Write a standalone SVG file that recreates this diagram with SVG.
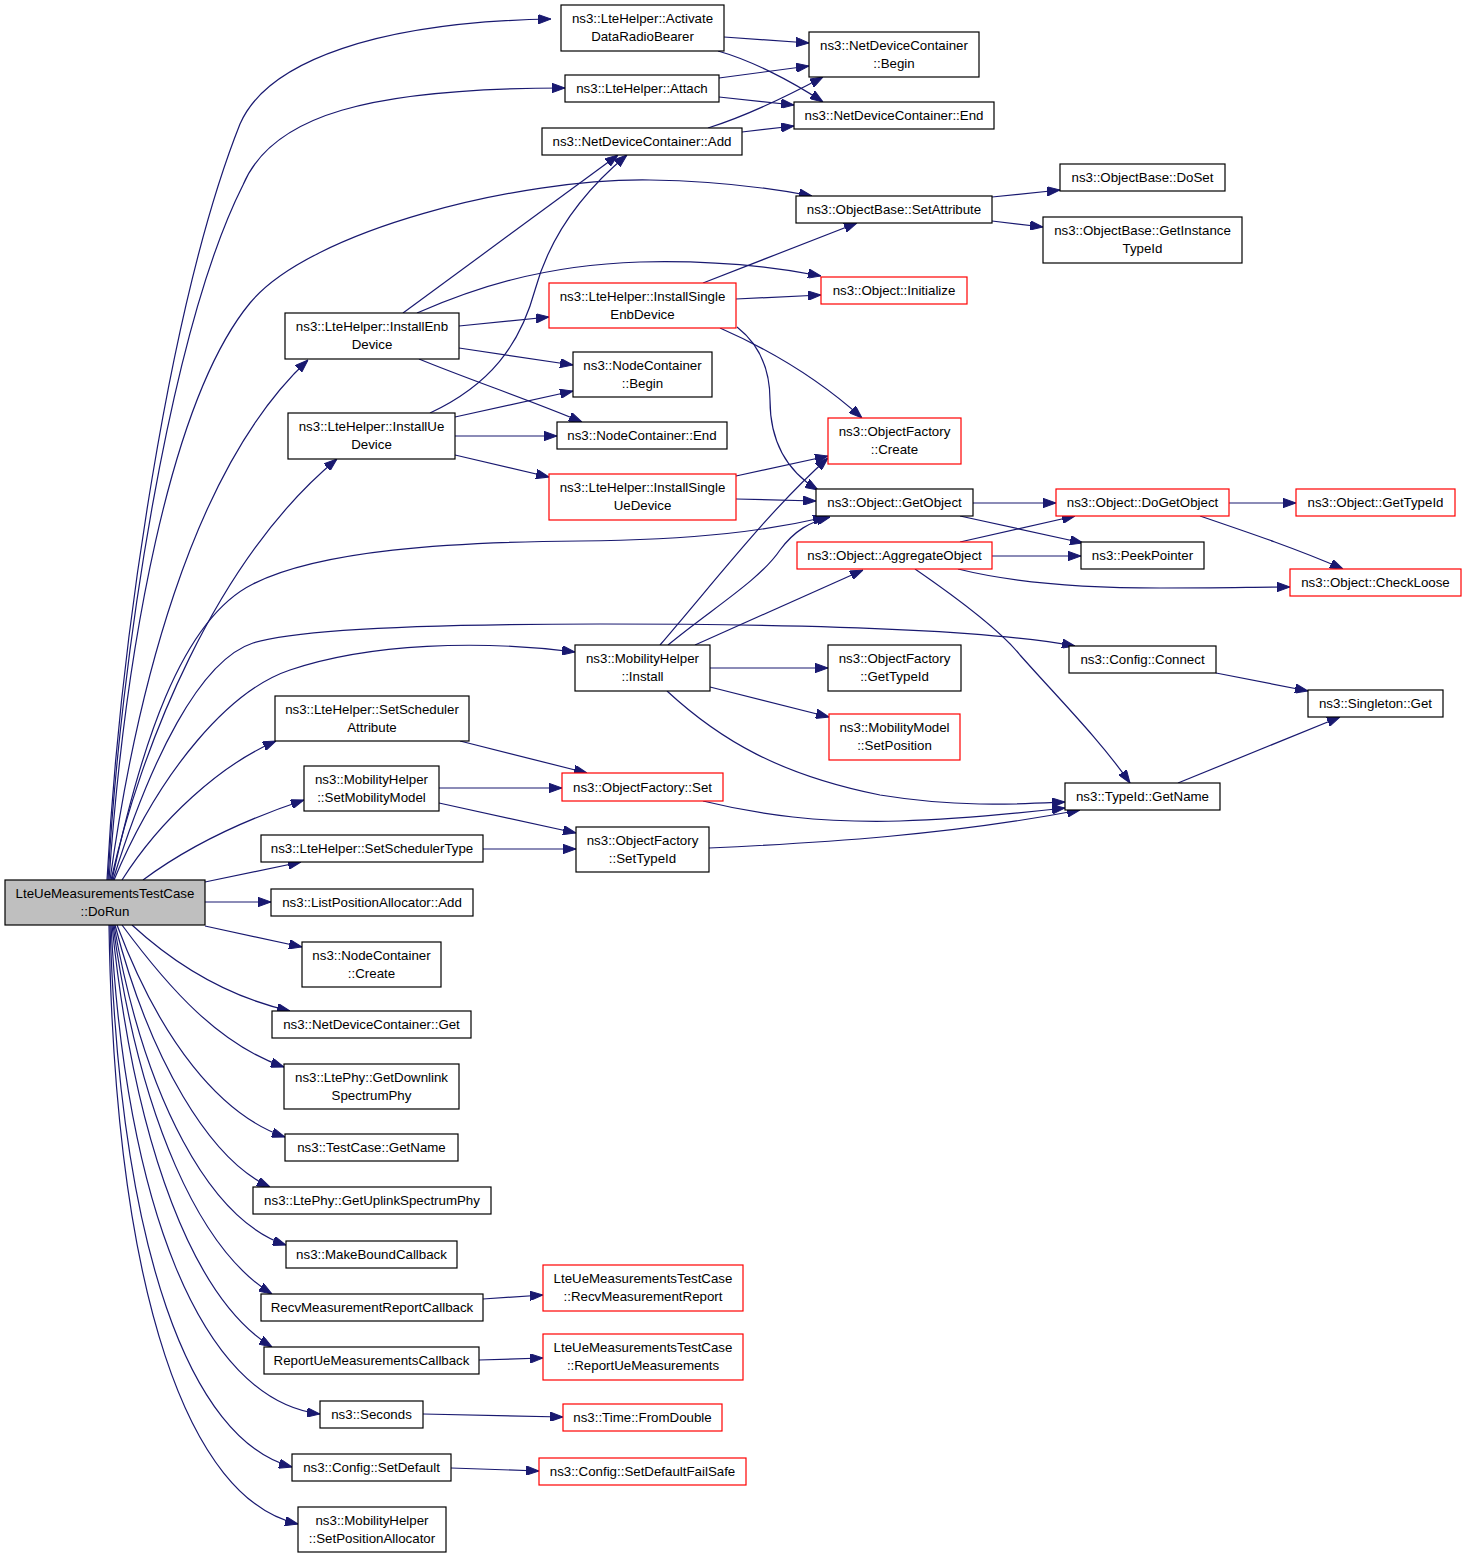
<svg xmlns="http://www.w3.org/2000/svg" width="1467" height="1557" viewBox="0 0 1467 1557">
<style>
.n rect{fill:#fff;stroke:#000;stroke-width:1.2}
.r rect{stroke:#f00}
.root rect{fill:#bfbfbf}
text{font-family:"Liberation Sans",Arial,Helvetica,sans-serif;font-size:13.3px;text-anchor:middle;fill:#000}
.e path{fill:none;stroke:#191970;stroke-width:1.2;marker-end:url(#a)}
</style>
<defs>
<marker id="a" markerUnits="userSpaceOnUse" markerWidth="13" markerHeight="9.4" refX="13" refY="4.7" orient="auto">
<path d="M0,0 L13,4.7 L0,9.4 z" fill="#191970" stroke="#191970" stroke-width="1"/>
</marker>
</defs>
<rect width="1467" height="1557" fill="#fff"/>
<g class="e" id="edges">
<path d="M107,880 C120,640 170,300 240,124 C268,60 380,22 551,19"/>
<path d="M108,880 C120,660 170,330 243,185 C272,115 370,88 565,88"/>
<path d="M109,880 C125,650 170,400 250,303 C310,230 520,178 650,180 C720,181 770,188 812,196"/>
<path d="M110,880 C135,700 190,470 308,360"/>
<path d="M111,880 C140,750 215,560 337,459"/>
<path d="M112,880 C140,750 180,620 253,584 C320,550 450,542 580,541 C700,540 770,530 826,517"/>
<path d="M113,880 C150,760 200,660 253,643 C300,628 450,624 600,624 C850,624 1000,632 1075,646"/>
<path d="M114,880 C160,770 230,690 290,670 C370,643 480,640 575,652"/>
<path d="M122,880 C160,820 220,765 276,741"/>
<path d="M143,880 C190,845 250,818 304,800"/>
<path d="M205,882 L301,862"/>
<path d="M205,902 L271,902"/>
<path d="M205,926 L302,947"/>
<path d="M132,925 C170,960 220,995 290,1011"/>
<path d="M122,925 C170,990 220,1045 284,1067"/>
<path d="M117,925 C160,1040 220,1115 285,1137"/>
<path d="M115,925 C150,1060 210,1160 270,1187"/>
<path d="M114,925 C145,1100 210,1220 286,1245"/>
<path d="M113,925 C140,1120 200,1250 272,1294"/>
<path d="M112,925 C135,1150 195,1300 272,1347"/>
<path d="M111,925 C125,1200 200,1400 320,1414"/>
<path d="M110,925 C120,1250 190,1440 292,1467"/>
<path d="M109,925 C115,1300 190,1500 298,1524"/>
<path d="M724,37 L809,43"/>
<path d="M718,51 C750,60 790,80 823,102"/>
<path d="M719,78 L809,66"/>
<path d="M719,97 L794,105"/>
<path d="M708,128 C740,118 780,100 823,77"/>
<path d="M742,132 L794,126"/>
<path d="M403,313 L618,155"/>
<path d="M430,413 C490,385 520,345 535,290 C550,235 585,190 627,155"/>
<path d="M417,313 C470,290 540,265 640,262 C720,260 780,268 821,276"/>
<path d="M459,326 L549,317"/>
<path d="M459,348 L573,365"/>
<path d="M419,359 C470,380 530,400 582,422"/>
<path d="M455,417 L573,391"/>
<path d="M455,436 L557,436"/>
<path d="M455,455 L549,477"/>
<path d="M703,283 L857,223"/>
<path d="M736,299 L821,295"/>
<path d="M720,328 C770,350 820,380 862,418"/>
<path d="M737,327 C760,345 770,370 770,400 C770,440 785,470 818,490"/>
<path d="M736,476 L828,456"/>
<path d="M736,499 L816,501"/>
<path d="M660,645 C720,575 770,510 828,458"/>
<path d="M668,645 C710,610 760,580 780,550 C795,530 810,522 830,517"/>
<path d="M695,645 L863,570"/>
<path d="M710,668 L828,668"/>
<path d="M710,687 L829,717"/>
<path d="M667,691 C720,740 780,775 880,795 C960,808 1020,804 1065,802"/>
<path d="M703,801 C760,815 820,823 900,821 C960,819 1020,813 1065,808"/>
<path d="M709,848 C820,843 950,835 1080,810"/>
<path d="M973,503 L1056,503"/>
<path d="M960,516 L1083,543"/>
<path d="M960,542 L1075,516"/>
<path d="M992,556 L1081,556"/>
<path d="M958,569 C1010,582 1080,588 1160,588 C1220,588 1260,587 1290,587"/>
<path d="M915,569 C960,600 1000,630 1020,655 C1060,700 1100,740 1130,783"/>
<path d="M1229,503 L1296,503"/>
<path d="M1200,516 C1250,533 1300,550 1343,569"/>
<path d="M992,197 L1060,190"/>
<path d="M992,221 L1043,227"/>
<path d="M1216,673 L1308,691"/>
<path d="M1178,783 L1340,717"/>
<path d="M460,741 L587,773"/>
<path d="M439,788 L562,788"/>
<path d="M439,803 L576,833"/>
<path d="M483,849 L576,849"/>
<path d="M483,1299 L543,1295"/>
<path d="M479,1360 L543,1358"/>
<path d="M423,1414 L563,1417"/>
<path d="M451,1468 L539,1471"/>
</g>
<g class="n root" id="root"><rect x="5" y="880" width="200" height="45"/><text x="105" y="897.5">LteUeMeasurementsTestCase</text><text x="105" y="915.5">::DoRun</text></g>
<g class="n" id="activate"><rect x="561" y="5" width="163" height="46"/><text x="642.5" y="22.5">ns3::LteHelper::Activate</text><text x="642.5" y="40.5">DataRadioBearer</text></g>
<g class="n" id="ndcbegin"><rect x="809" y="32" width="170" height="45"/><text x="894" y="49.5">ns3::NetDeviceContainer</text><text x="894" y="67.5">::Begin</text></g>
<g class="n" id="attach"><rect x="565" y="75" width="154" height="27"/><text x="642" y="93.3">ns3::LteHelper::Attach</text></g>
<g class="n" id="ndcend"><rect x="794" y="102" width="200" height="27"/><text x="894" y="120.3">ns3::NetDeviceContainer::End</text></g>
<g class="n" id="ndcadd"><rect x="542" y="128" width="200" height="27"/><text x="642" y="146.3">ns3::NetDeviceContainer::Add</text></g>
<g class="n" id="setattr"><rect x="796" y="196" width="196" height="27"/><text x="894" y="214.3">ns3::ObjectBase::SetAttribute</text></g>
<g class="n" id="doset"><rect x="1060" y="164" width="165" height="27"/><text x="1142.5" y="182.3">ns3::ObjectBase::DoSet</text></g>
<g class="n" id="getinst"><rect x="1043" y="217" width="199" height="46"/><text x="1142.5" y="234.5">ns3::ObjectBase::GetInstance</text><text x="1142.5" y="252.5">TypeId</text></g>
<g class="n r" id="init"><rect x="821" y="277" width="146" height="27"/><text x="894" y="295.3">ns3::Object::Initialize</text></g>
<g class="n" id="instenb"><rect x="285" y="313" width="174" height="46"/><text x="372" y="330.5">ns3::LteHelper::InstallEnb</text><text x="372" y="348.5">Device</text></g>
<g class="n r" id="singleenb"><rect x="549" y="283" width="187" height="45"/><text x="642.5" y="300.5">ns3::LteHelper::InstallSingle</text><text x="642.5" y="318.5">EnbDevice</text></g>
<g class="n" id="ncbegin"><rect x="573" y="352" width="139" height="45"/><text x="642.5" y="369.5">ns3::NodeContainer</text><text x="642.5" y="387.5">::Begin</text></g>
<g class="n" id="instue"><rect x="288" y="413" width="167" height="46"/><text x="371.5" y="430.5">ns3::LteHelper::InstallUe</text><text x="371.5" y="448.5">Device</text></g>
<g class="n" id="ncend"><rect x="557" y="422" width="170" height="27"/><text x="642" y="440.3">ns3::NodeContainer::End</text></g>
<g class="n r" id="singleue"><rect x="549" y="474" width="187" height="46"/><text x="642.5" y="491.5">ns3::LteHelper::InstallSingle</text><text x="642.5" y="509.5">UeDevice</text></g>
<g class="n r" id="create"><rect x="828" y="418" width="133" height="46"/><text x="894.5" y="435.5">ns3::ObjectFactory</text><text x="894.5" y="453.5">::Create</text></g>
<g class="n" id="getobj"><rect x="816" y="489" width="157" height="27"/><text x="894.5" y="507.3">ns3::Object::GetObject</text></g>
<g class="n r" id="dogetobj"><rect x="1056" y="489" width="173" height="27"/><text x="1142.5" y="507.3">ns3::Object::DoGetObject</text></g>
<g class="n r" id="gettypeid"><rect x="1296" y="489" width="159" height="27"/><text x="1375.5" y="507.3">ns3::Object::GetTypeId</text></g>
<g class="n r" id="aggr"><rect x="797" y="542" width="195" height="27"/><text x="894.5" y="560.3">ns3::Object::AggregateObject</text></g>
<g class="n" id="peek"><rect x="1081" y="542" width="123" height="27"/><text x="1142.5" y="560.3">ns3::PeekPointer</text></g>
<g class="n r" id="checkloose"><rect x="1290" y="569" width="171" height="27"/><text x="1375.5" y="587.3">ns3::Object::CheckLoose</text></g>
<g class="n" id="connect"><rect x="1069" y="646" width="147" height="27"/><text x="1142.5" y="664.3">ns3::Config::Connect</text></g>
<g class="n" id="singleton"><rect x="1308" y="690" width="135" height="27"/><text x="1375.5" y="708.3">ns3::Singleton::Get</text></g>
<g class="n" id="install"><rect x="575" y="645" width="135" height="46"/><text x="642.5" y="662.5">ns3::MobilityHelper</text><text x="642.5" y="680.5">::Install</text></g>
<g class="n" id="ofgettypeid"><rect x="828" y="645" width="133" height="46"/><text x="894.5" y="662.5">ns3::ObjectFactory</text><text x="894.5" y="680.5">::GetTypeId</text></g>
<g class="n r" id="setpos"><rect x="829" y="714" width="131" height="46"/><text x="894.5" y="731.5">ns3::MobilityModel</text><text x="894.5" y="749.5">::SetPosition</text></g>
<g class="n" id="getname"><rect x="1065" y="783" width="155" height="27"/><text x="1142.5" y="801.3">ns3::TypeId::GetName</text></g>
<g class="n" id="schedattr"><rect x="275" y="696" width="194" height="45"/><text x="372" y="713.5">ns3::LteHelper::SetScheduler</text><text x="372" y="731.5">Attribute</text></g>
<g class="n" id="setmob"><rect x="304" y="766" width="135" height="45"/><text x="371.5" y="783.5">ns3::MobilityHelper</text><text x="371.5" y="801.5">::SetMobilityModel</text></g>
<g class="n r" id="ofset"><rect x="562" y="773" width="161" height="28"/><text x="642.5" y="791.8">ns3::ObjectFactory::Set</text></g>
<g class="n" id="schedtype"><rect x="261" y="835" width="222" height="27"/><text x="372" y="853.3">ns3::LteHelper::SetSchedulerType</text></g>
<g class="n" id="settypeid"><rect x="576" y="827" width="133" height="45"/><text x="642.5" y="844.5">ns3::ObjectFactory</text><text x="642.5" y="862.5">::SetTypeId</text></g>
<g class="n" id="lpaadd"><rect x="271" y="889" width="202" height="27"/><text x="372" y="907.3">ns3::ListPositionAllocator::Add</text></g>
<g class="n" id="nccreate"><rect x="302" y="942" width="139" height="45"/><text x="371.5" y="959.5">ns3::NodeContainer</text><text x="371.5" y="977.5">::Create</text></g>
<g class="n" id="ndcget"><rect x="272" y="1011" width="199" height="27"/><text x="371.5" y="1029.3">ns3::NetDeviceContainer::Get</text></g>
<g class="n" id="dlphy"><rect x="284" y="1064" width="175" height="45"/><text x="371.5" y="1081.5">ns3::LtePhy::GetDownlink</text><text x="371.5" y="1099.5">SpectrumPhy</text></g>
<g class="n" id="tcname"><rect x="285" y="1134" width="173" height="27"/><text x="371.5" y="1152.3">ns3::TestCase::GetName</text></g>
<g class="n" id="ulphy"><rect x="253" y="1187" width="238" height="27"/><text x="372" y="1205.3">ns3::LtePhy::GetUplinkSpectrumPhy</text></g>
<g class="n" id="mbc"><rect x="286" y="1241" width="171" height="27"/><text x="371.5" y="1259.3">ns3::MakeBoundCallback</text></g>
<g class="n" id="recvcb"><rect x="261" y="1294" width="222" height="27"/><text x="372" y="1312.3">RecvMeasurementReportCallback</text></g>
<g class="n" id="repcb"><rect x="264" y="1347" width="215" height="27"/><text x="371.5" y="1365.3">ReportUeMeasurementsCallback</text></g>
<g class="n" id="seconds"><rect x="320" y="1401" width="103" height="27"/><text x="371.5" y="1419.3">ns3::Seconds</text></g>
<g class="n" id="setdefault"><rect x="292" y="1454" width="159" height="27"/><text x="371.5" y="1472.3">ns3::Config::SetDefault</text></g>
<g class="n" id="setposalloc"><rect x="298" y="1507" width="148" height="45"/><text x="372" y="1524.5">ns3::MobilityHelper</text><text x="372" y="1542.5">::SetPositionAllocator</text></g>
<g class="n r" id="recvrep"><rect x="543" y="1265" width="200" height="46"/><text x="643" y="1282.5">LteUeMeasurementsTestCase</text><text x="643" y="1300.5">::RecvMeasurementReport</text></g>
<g class="n r" id="repue"><rect x="543" y="1334" width="200" height="46"/><text x="643" y="1351.5">LteUeMeasurementsTestCase</text><text x="643" y="1369.5">::ReportUeMeasurements</text></g>
<g class="n r" id="fromdouble"><rect x="563" y="1404" width="159" height="27"/><text x="642.5" y="1422.3">ns3::Time::FromDouble</text></g>
<g class="n r" id="failsafe"><rect x="539" y="1458" width="207" height="27"/><text x="642.5" y="1476.3">ns3::Config::SetDefaultFailSafe</text></g>
</svg>
